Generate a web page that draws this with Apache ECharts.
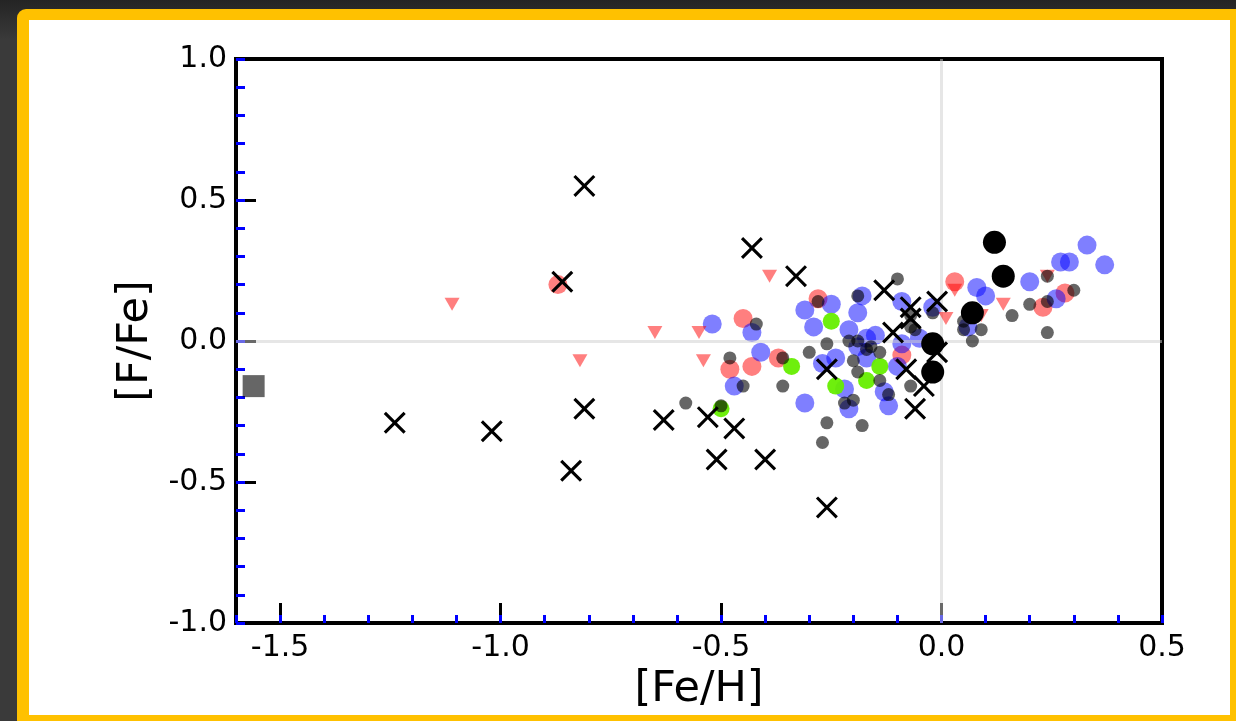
<!DOCTYPE html>
<html>
<head>
<meta charset="utf-8">
<script src="https://cdn.jsdelivr.net/npm/echarts@6/dist/echarts.min.js"></script>
<style>
  html, body { margin: 0; padding: 0; width: 1236px; height: 721px; overflow: hidden;
    background: linear-gradient(#242424, #3a3a3a 40px); }
  .frame { position: absolute; left: 17px; top: 9px; width: 1230px; height: 720px;
    background: #ffc100; border-radius: 9px 0 0 0; }
  .paper { position: absolute; left: 29px; top: 20px; width: 1201px; height: 695px; background: #fff; }
  #chart { position: absolute; left: 0; top: 0; width: 1236px; height: 721px; }
</style>
</head>
<body>
<div class="frame"></div>
<div class="paper"></div>
<div id="chart"></div>
<script>
// tick positions
const xMajor = [-1.5, -1.0, -0.5, 0.0, 0.5];
const xMinor = [-1.6, -1.5, -1.4, -1.3, -1.2, -1.1, -1.0, -0.9, -0.8, -0.7, -0.6, -0.5,
                -0.4, -0.3, -0.2, -0.1, 0.0, 0.1, 0.2, 0.3, 0.4, 0.5];
const yMinor = [-1.0, -0.9, -0.8, -0.7, -0.6, -0.5, -0.4, -0.3, -0.2, -0.1, 0.0,
                0.1, 0.2, 0.3, 0.4, 0.5, 0.6, 0.7, 0.8, 0.9, 1.0];

// [Fe/H], [F/Fe] pairs
const crossPts = [[-1.24, -0.29], [-1.02, -0.32], [-0.81, 0.55], [-0.86, 0.21], [-0.81, -0.24],
  [-0.84, -0.46], [-0.63, -0.28], [-0.53, -0.27], [-0.51, -0.42], [-0.47, -0.31], [-0.43, 0.33],
  [-0.40, -0.42], [-0.33, 0.23], [-0.26, -0.59], [-0.26, -0.10], [-0.13, 0.18], [-0.07, 0.12],
  [-0.01, 0.14], [-0.07, 0.08], [-0.11, 0.03], [-0.08, -0.10], [-0.04, -0.16], [-0.06, -0.24],
  [-0.01, -0.04]];
const bigBlackPts = [[0.12, 0.35], [0.14, 0.23], [0.07, 0.10], [-0.02, -0.01], [-0.02, -0.11]];
const squarePts = [[-1.56, -0.16]];
const trianglePts = [[-1.11, 0.13], [-0.82, -0.07], [-0.65, 0.03], [-0.55, 0.03], [-0.54, -0.07],
  [-0.39, 0.23], [0.03, 0.18], [0.01, 0.08], [0.09, 0.09], [0.14, 0.13], [0.24, 0.23]];
const redPts = [[-0.87, 0.20], [-0.45, 0.08], [-0.48, -0.10], [-0.43, -0.09], [-0.37, -0.06],
  [-0.28, 0.15], [-0.09, -0.05], [0.03, 0.21], [0.23, 0.12], [0.28, 0.17]];
const bluePts = [[-0.52, 0.06], [-0.43, 0.03], [-0.41, -0.04], [-0.47, -0.16], [-0.31, -0.22],
  [-0.31, 0.11], [-0.29, 0.05], [-0.25, 0.13], [-0.18, 0.16], [-0.19, 0.10], [-0.21, 0.04],
  [-0.15, 0.02], [-0.17, 0.01], [-0.19, -0.02], [-0.09, -0.01], [-0.09, 0.14], [-0.02, 0.12],
  [-0.05, 0.01], [-0.24, -0.06], [-0.22, -0.17], [-0.17, -0.06], [-0.10, -0.09], [-0.13, -0.18],
  [-0.12, -0.23], [-0.21, -0.24], [-0.27, -0.08], [0.08, 0.19], [0.10, 0.16], [0.06, 0.05],
  [0.20, 0.21], [0.26, 0.15], [0.27, 0.28], [0.29, 0.28], [0.33, 0.34], [0.37, 0.27]];
const grayPts = [[-0.42, 0.06], [-0.48, -0.06], [-0.45, -0.16], [-0.36, -0.06], [-0.36, -0.16],
  [-0.58, -0.22], [-0.30, -0.04], [-0.28, 0.14], [-0.50, -0.23], [-0.26, -0.01], [-0.26, -0.29],
  [-0.27, -0.36], [-0.18, -0.30], [-0.20, -0.07], [-0.19, -0.11], [-0.14, -0.04], [-0.14, -0.14],
  [-0.12, -0.19], [-0.22, -0.22], [-0.20, -0.21], [-0.07, -0.16], [0.07, 0.00], [-0.10, 0.22],
  [-0.19, 0.16], [-0.21, 0.00], [-0.19, 0.00], [-0.17, -0.03], [-0.16, -0.02], [-0.07, 0.09],
  [-0.07, 0.05], [-0.06, 0.04], [-0.02, 0.10], [0.05, 0.07], [0.05, 0.04], [0.09, 0.04],
  [0.16, 0.09], [0.20, 0.13], [0.24, 0.14], [0.24, 0.03], [0.24, 0.23], [0.30, 0.18]];
const greenPts = [[-0.34, -0.09], [-0.50, -0.24], [-0.25, 0.07], [-0.24, -0.16], [-0.17, -0.14],
  [-0.14, -0.09]];

const FONT = "DejaVu Sans";
const crossPath = "path://M0,10L10,0L50,40L90,0L100,10L60,50L100,90L90,100L50,60L10,100L0,90L40,50Z";
const triPath = "path://M0,0L10,0L5,9Z";

function fmt(v) {
    return (Math.abs(v) < 1e-9 ? 0 : v).toFixed(1);
}

function scatter(name, data, symbol, size, color, z) {
    return {
        name: name,
        type: "scatter",
        data: data,
        symbol: symbol,
        symbolSize: size,
        z: z,
        itemStyle: { color: color, opacity: 1 },
        emphasis: { disabled: true },
    };
}

const chart = echarts.init(document.getElementById("chart"));
chart.setOption({
    animation: false,
    backgroundColor: "transparent",
    textStyle: { fontFamily: FONT },
    grid: {
        left: 236, top: 59, right: 74, bottom: 98,
        show: true, borderColor: "#000", borderWidth: 4,
        backgroundColor: "transparent",
    },
    xAxis: [
        {
            type: "value", min: -1.6, max: 0.5, position: "bottom",
            axisLine: { show: true, onZero: false, lineStyle: { color: "#000", width: 4 } },
            axisTick: { show: true, inside: true, length: 20, customValues: xMajor,
                lineStyle: { color: "#000", width: 3 } },
            axisLabel: { customValues: xMajor, formatter: fmt, fontSize: 30, color: "#000",
                margin: 10, fontFamily: FONT },
            splitLine: { show: false },
            name: "[Fe/H]", nameLocation: "middle", nameGap: 44,
            nameTextStyle: { fontSize: 43, color: "#000", fontFamily: FONT },
        },
        {
            type: "value", min: -1.6, max: 0.5, position: "bottom",
            axisLine: { show: false, onZero: false },
            axisTick: { show: true, inside: true, length: 8, customValues: xMinor,
                lineStyle: { color: "#0000ff", width: 3 } },
            axisLabel: { show: false },
            splitLine: { show: false },
        },
    ],
    yAxis: [
        {
            type: "value", min: -1.0, max: 1.0, interval: 0.5, position: "left",
            axisLine: { show: true, onZero: false, lineStyle: { color: "#000", width: 4 } },
            axisTick: { show: true, inside: true, length: 20,
                lineStyle: { color: "#000", width: 3 } },
            axisLabel: { formatter: fmt, fontSize: 30, color: "#000", margin: 9, fontFamily: FONT },
            splitLine: { show: false },
            name: "[F/Fe]", nameLocation: "middle", nameGap: 78,
            nameTextStyle: { fontSize: 43, color: "#000", fontFamily: FONT },
        },
        {
            type: "value", min: -1.0, max: 1.0, position: "left",
            axisLine: { show: false, onZero: false },
            axisTick: { show: true, inside: true, length: 9, customValues: yMinor,
                lineStyle: { color: "#0000ff", width: 3 } },
            axisLabel: { show: false },
            splitLine: { show: false },
        },
    ],
    series: [
        {
            // zero reference lines
            type: "scatter", data: [], z: 1,
            markLine: {
                silent: true, symbol: "none", animation: false,
                label: { show: false },
                lineStyle: { color: "rgba(206,206,206,0.51)", width: 3, type: "solid" },
                data: [{ xAxis: 0 }, { yAxis: 0 }],
            },
        },
        scatter("red", redPts, "circle", 19, "rgba(255,0,0,0.5)", 2),
        scatter("blue", bluePts, "circle", 19, "rgba(0,0,255,0.5)", 3),
        scatter("green", greenPts, "circle", 17, "rgba(102,238,0,0.95)", 4),
        scatter("tri", trianglePts, triPath, [15, 13], "rgba(255,0,0,0.5)", 5),
        scatter("gray", grayPts, "circle", 13, "rgba(0,0,0,0.6)", 6),
        scatter("cross", crossPts, crossPath, 22, "#000", 7),
        scatter("big", bigBlackPts, "circle", 23, "#000", 8),
        scatter("square", squarePts, "rect", 22, "rgba(0,0,0,0.6)", 8),
    ],
});
</script>
</body>
</html>
